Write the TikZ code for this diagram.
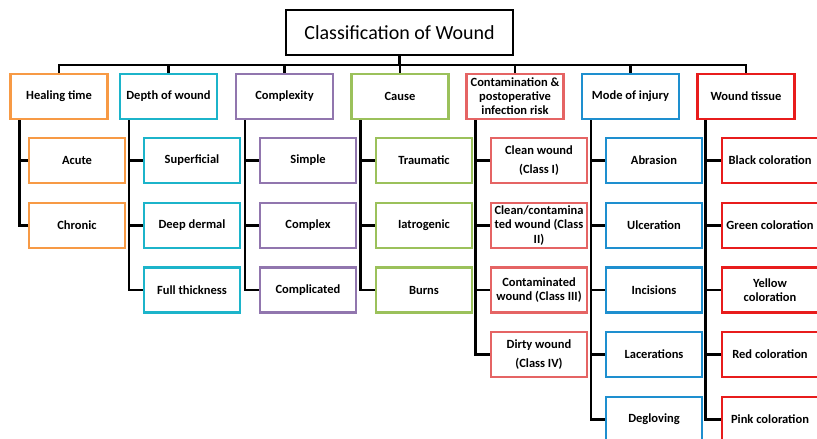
\documentclass[tikz,border=0pt]{standalone}
\usepackage{fontspec}
\setmainfont{Carlito}
\usetikzlibrary{positioning}
\definecolor{orange}{HTML}{F79A45}
\definecolor{cyan}{HTML}{1CB4CA}
\definecolor{purple}{HTML}{9176AE}
\definecolor{green}{HTML}{9BC15B}
\definecolor{salmon}{HTML}{E56464}
\definecolor{blue}{HTML}{1E8FCF}
\definecolor{red}{HTML}{E81C1C}
\tikzset{
  title/.style={draw=black,line width=2.4pt,minimum width=227,minimum height=45,font=\fontsize{20}{24}\selectfont},
  cat/.style={draw=#1,line width=2.4pt,fill=white,minimum width=97,minimum height=45,inner sep=1pt,align=center,font=\bfseries\fontsize{12.5}{14}\selectfont},
  leaf/.style={draw=#1,line width=2.4pt,fill=white,minimum width=96,minimum height=45,inner sep=1pt,align=center,font=\bfseries\fontsize{12.5}{14.5}\selectfont},
  link/.style={draw=black,line width=2.4pt}
}
\begin{document}
\begin{tikzpicture}[x=1pt,y=-1pt]
\path[use as bounding box] (0,0) rectangle (817,439);
\clip (0,0) rectangle (817,439);
\node[title] (title) at (399.5,32.5) {Classification of Wound};
\coordinate (bus) at (399.5,65);
% categories
\node[cat=orange] (heal) at (59,96.5) {Healing time};
\node[cat=cyan] (depth) at (168.5,96.5) {Depth of wound};
\node[cat=purple] (cplx) at (284.5,96.5) {Complexity};
\node[cat=green] (cause) at (400,96.5) {Cause};
\node[cat=salmon] (cont) at (515,96.5) {Contamination \&\\postoperative\\infection risk};
\node[cat=blue] (mode) at (630.5,96.5) {Mode of injury};
\node[cat=red] (tissue) at (746,96.5) {Wound tissue};
\draw[link] (title.south) -- (bus);
\draw[link] (heal.north) |- (bus) -| (tissue.north);
\draw[link] (depth.north) -- (depth.north |- bus); \draw[link] (cplx.north) -- (cplx.north |- bus);
\draw[link] (cause.north) -- (cause.north |- bus); \draw[link] (cont.north) -- (cont.north |- bus);
\draw[link] (mode.north) -- (mode.north |- bus);
% healing time
\node[leaf=orange] (h1) at (77,160.5) {Acute}; \node[leaf=orange] (h2) at (77,225.5) {Chronic};
\draw[link] ([xshift=10]heal.south west) |- (h2.west); \draw[link] ([xshift=10]heal.south west) |- (h1.west);
% depth of wound
\node[leaf=cyan] (d1) at (192,160.5) {Superficial}; \node[leaf=cyan] (d2) at (192,225.5) {Deep dermal}; \node[leaf=cyan] (d3) at (192,290) {Full thickness};
\draw[link] ([xshift=10]depth.south west) |- (d3.west); \draw[link] ([xshift=10]depth.south west) |- (d2.west); \draw[link] ([xshift=10]depth.south west) |- (d1.west);
% complexity
\node[leaf=purple] (c1) at (308,160.5) {Simple}; \node[leaf=purple] (c2) at (308,225.5) {Complex}; \node[leaf=purple] (c3) at (308,290) {Complicated};
\draw[link] ([xshift=10]cplx.south west) |- (c3.west); \draw[link] ([xshift=10]cplx.south west) |- (c2.west); \draw[link] ([xshift=10]cplx.south west) |- (c1.west);
% cause
\node[leaf=green] (k1) at (424,160.5) {Traumatic}; \node[leaf=green] (k2) at (424,225.5) {Iatrogenic}; \node[leaf=green] (k3) at (424,290) {Burns};
\draw[link] ([xshift=10]cause.south west) |- (k3.west); \draw[link] ([xshift=10]cause.south west) |- (k2.west); \draw[link] ([xshift=10]cause.south west) |- (k1.west);
% contamination
\node[leaf=salmon] (r1) at (539,160.5) {Clean wound\\[5pt](Class I)}; \node[leaf=salmon] (r2) at (539,225.5) {Clean/contamina\\ted wound (Class\\II)};
\node[leaf=salmon] (r3) at (539,290) {Contaminated\\wound (Class III)}; \node[leaf=salmon] (r4) at (539,354.5) {Dirty wound\\[5pt](Class IV)};
\draw[link] ([xshift=10]cont.south west) |- (r4.west); \draw[link] ([xshift=10]cont.south west) |- (r3.west);
\draw[link] ([xshift=10]cont.south west) |- (r2.west); \draw[link] ([xshift=10]cont.south west) |- (r1.west);
% mode of injury
\node[leaf=blue] (m1) at (654,160.5) {Abrasion}; \node[leaf=blue] (m2) at (654,225.5) {Ulceration}; \node[leaf=blue] (m3) at (654,290) {Incisions};
\node[leaf=blue] (m4) at (654,354.5) {Lacerations}; \node[leaf=blue] (m5) at (654,419.5) {Degloving};
\draw[link] ([xshift=10]mode.south west) |- (m5.west); \draw[link] ([xshift=10]mode.south west) |- (m4.west); \draw[link] ([xshift=10]mode.south west) |- (m3.west);
\draw[link] ([xshift=10]mode.south west) |- (m2.west); \draw[link] ([xshift=10]mode.south west) |- (m1.west);
% wound tissue
\node[leaf=red] (t1) at (770,160.5) {Black coloration}; \node[leaf=red] (t2) at (770,225.5) {Green coloration}; \node[leaf=red] (t3) at (770,290) {Yellow\\coloration};
\node[leaf=red] (t4) at (770,354.5) {Red coloration}; \node[leaf=red] (t5) at (770,419.5) {Pink coloration};
\draw[link] ([xshift=9]tissue.south west) |- (t5.west); \draw[link] ([xshift=9]tissue.south west) |- (t4.west); \draw[link] ([xshift=9]tissue.south west) |- (t3.west);
\draw[link] ([xshift=9]tissue.south west) |- (t2.west); \draw[link] ([xshift=9]tissue.south west) |- (t1.west);
\end{tikzpicture}
\end{document}
